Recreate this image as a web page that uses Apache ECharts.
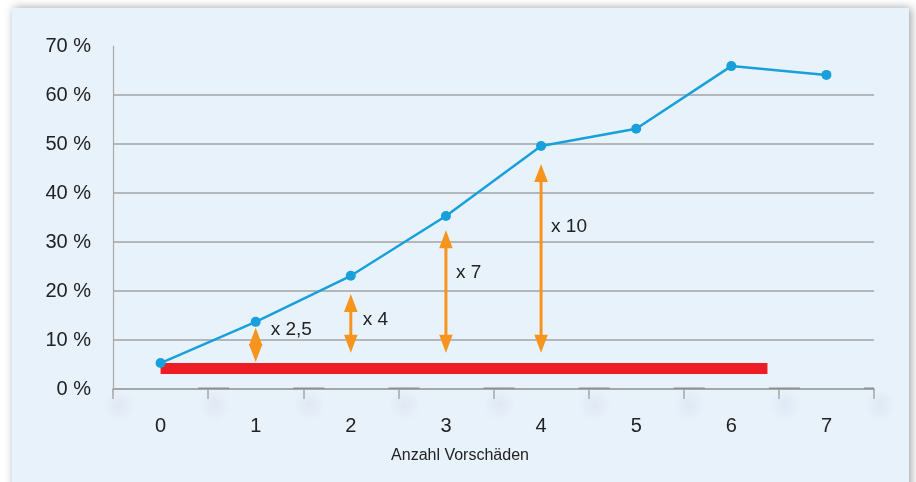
<!DOCTYPE html>
<html>
<head>
<meta charset="utf-8">
<script src="https://cdn.jsdelivr.net/npm/echarts@6/dist/echarts.min.js"></script>
<style>
  html, body { margin: 0; padding: 0; background: #ffffff; }
  #chart { width: 916px; height: 482px; }
</style>
</head>
<body>
<div id="chart"></div>
<script>
// Number of prior claims and share (%) per group
const categories = ['0', '1', '2', '3', '4', '5', '6', '7'];
const shares = [5.3, 13.7, 23.1, 35.3, 49.6, 53.1, 65.9, 64.1];

// Reference level (red band) and its extent along the category axis
const baseLevel = 4.2;
const baseFrom = 0;
const baseTo = 6.38;

// Multiplier arrows: category position, lower and upper end (%), caption
const arrowAt = [1, 2, 3, 4];
const arrowLow = [5.5, 7.4, 7.4, 7.4];
const arrowHigh = [12.5, 19.4, 32.4, 45.9];
const arrowText = ['x 2,5', 'x 4', 'x 7', 'x 10'];

// Y axis ticks
const yMin = 0, yMax = 70, yStep = 10;

// Caption anchor heights (%), layout only
const captionLevel = [12.0, 14.1, 23.7, 33.1];

const FONT = "'Liberation Sans', Arial, sans-serif";
const GRID_GRAY = '#a3a3a3';
const ORANGE = '#f7941d';

const chart = echarts.init(document.getElementById('chart'), null, { renderer: 'canvas' });

const boundaries = categories.map((c, i) => i + 0.5);
const allBoundaries = [-0.5].concat(boundaries);

const option = {
  animation: false,
  graphic: [{
    type: 'rect',
    z: -10,
    silent: true,
    shape: { x: 12, y: 8, width: 897, height: 500 },
    style: {
      fill: '#e8f2fa',
      shadowBlur: 9,
      shadowOffsetX: 2,
      shadowColor: 'rgba(0,0,0,0.38)'
    }
  }],
  grid: { left: 113, right: 42, top: 46, bottom: 93 },
  xAxis: [{
    type: 'category',
    data: categories,
    boundaryGap: true,
    axisLine: { lineStyle: { color: GRID_GRAY, width: 1.5 } },
    axisTick: { show: true, length: 10, lineStyle: { color: GRID_GRAY, width: 1.5 } },
    axisLabel: { color: '#222', fontSize: 20, fontFamily: FONT, margin: 27 },
    name: 'Anzahl Vorschäden',
    nameLocation: 'middle',
    nameGap: 59,
    nameTextStyle: { color: '#222', fontSize: 16, fontFamily: FONT, padding: [0, 67, 0, 0] }
  }, {
    type: 'value',
    min: -0.5,
    max: 7.5,
    show: false
  }],
  yAxis: {
    type: 'value',
    min: yMin,
    max: yMax,
    interval: yStep,
    axisLine: { show: true, onZero: false, lineStyle: { color: '#a9a9a9', width: 1.2 } },
    axisTick: { show: false },
    axisLabel: {
      color: '#222', fontSize: 20, fontFamily: FONT, margin: 22,
      formatter: v => v + ' %'
    },
    splitLine: { show: true, showMaxLine: false, lineStyle: { color: GRID_GRAY, width: 1.5 } }
  },
  series: [
    {
      // soft halos below the axis ticks
      type: 'custom',
      xAxisIndex: 1,
      z: 1,
      silent: true,
      clip: false,
      data: allBoundaries.map(b => [b, 0]),
      renderItem: (params, api) => {
        const p = api.coord([api.value(0), api.value(1)]);
        return {
          type: 'circle',
          shape: { cx: p[0] + 6, cy: p[1] + 16, r: 16 },
          style: {
            fill: {
              type: 'radial', x: 0.5, y: 0.5, r: 0.5,
              colorStops: [
                { offset: 0, color: 'rgba(200,205,230,0.28)' },
                { offset: 1, color: 'rgba(200,205,230,0)' }
              ]
            }
          }
        };
      }
    },
    {
      // short heavy marks on the axis line at each category boundary
      type: 'custom',
      xAxisIndex: 1,
      z: 3,
      silent: true,
      clip: true,
      data: boundaries.map(b => [b, 0]),
      renderItem: (params, api) => {
        const p = api.coord([api.value(0), api.value(1)]);
        return {
          type: 'rect',
          shape: { x: p[0] - 10, y: p[1] - 1.5, width: 31, height: 3 },
          style: { fill: '#8f8f8f' }
        };
      }
    },
    {
      // reference band
      type: 'line',
      xAxisIndex: 1,
      z: 4,
      silent: true,
      symbol: 'none',
      data: [[baseFrom, baseLevel], [baseTo, baseLevel]],
      lineStyle: { color: '#ee1c25', width: 11, cap: 'butt' }
    },
    {
      // multiplier arrows
      type: 'custom',
      xAxisIndex: 1,
      z: 5,
      silent: true,
      clip: false,
      data: arrowAt.map((x, i) => [x, arrowLow[i], arrowHigh[i], i]),
      renderItem: (params, api) => {
        const x = api.value(0);
        const idx = api.value(3);
        const lo = api.coord([x, api.value(1)]);
        const hi = api.coord([x, api.value(2)]);
        const cx = lo[0];
        const hw = 6.8, hh = 18;
        const children = [];
        children.push({
          type: 'line',
          shape: { x1: cx, y1: hi[1] + hh - 2, x2: cx, y2: lo[1] - hh + 2 },
          style: { stroke: ORANGE, lineWidth: 3 }
        });
        children.push({
          type: 'polygon',
          shape: { points: [[cx, hi[1]], [cx - hw, hi[1] + hh], [cx + hw, hi[1] + hh]] },
          style: { fill: ORANGE }
        });
        children.push({
          type: 'polygon',
          shape: { points: [[cx, lo[1]], [cx - hw, lo[1] - hh], [cx + hw, lo[1] - hh]] },
          style: { fill: ORANGE }
        });
        const t = api.coord([x, captionLevel[idx]]);
        children.push({
          type: 'text',
          x: t[0] + (idx === 0 ? 15 : idx === 1 ? 12 : 10),
          y: t[1],
          style: {
            text: arrowText[idx],
            fill: '#222',
            font: '19px ' + FONT,
            verticalAlign: 'middle',
            align: 'left'
          }
        });
        return { type: 'group', children };
      }
    },
    {
      type: 'line',
      xAxisIndex: 0,
      z: 6,
      data: shares,
      symbol: 'circle',
      symbolSize: 10,
      itemStyle: { color: '#17a0dc' },
      lineStyle: { color: '#17a0dc', width: 2.5 }
    }
  ]
};

chart.setOption(option);
</script>
</body>
</html>
